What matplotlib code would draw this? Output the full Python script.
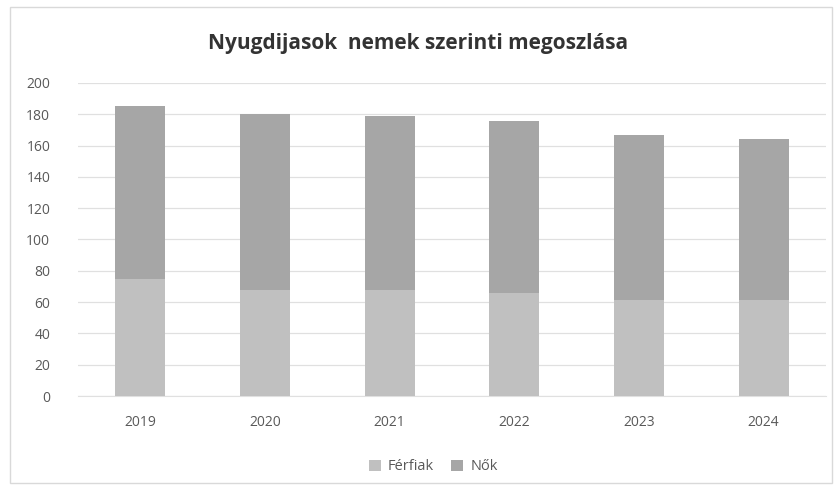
import matplotlib
matplotlib.use("Agg")
import matplotlib.pyplot as plt
from matplotlib.patches import Rectangle
import numpy as np

years = ["2019", "2020", "2021", "2022", "2023", "2024"]
ferfiak = [74.5, 67.5, 67.5, 66, 61.5, 61.5]
nok = [110.5, 112.5, 111.5, 110, 105.5, 102.5]
series_names = ["Férfiak", "Nők"]
yticks = [0, 20, 40, 60, 80, 100, 120, 140, 160, 180, 200]
title = "Nyugdijasok  nemek szerinti megoszlása"

plt.rcParams['font.family'] = ['Open Sans', 'DejaVu Sans']

fig = plt.figure(figsize=(8.36, 4.9), dpi=100)
fig.patch.set_facecolor("white")
fig.patches.append(Rectangle((10/836, 7/490), 822/836, 476/490, transform=fig.transFigure,
                             fill=False, edgecolor="#d9d9d9", linewidth=1.0))

ax = fig.add_axes([78/836, 1-396/490, 748/836, 313/490])
x = np.arange(len(years))
w = 0.4
ax.bar(x, ferfiak, w, color="#c0c0c0", label=series_names[0], zorder=3)
ax.bar(x, nok, w, bottom=ferfiak, color="#a6a6a6", label=series_names[1], zorder=3)

ax.set_xlim(-0.5, len(years) - 0.5)
ax.set_ylim(0, 200)
ax.set_yticks(yticks)
ax.set_yticklabels([str(t) for t in yticks])
ax.set_xticks(x)
ax.set_xticklabels(years)
ax.grid(axis="y", color="#e0e0e0", linewidth=0.9, zorder=0)
for s in ["top", "right", "left"]:
    ax.spines[s].set_visible(False)
ax.spines["bottom"].set_color("#e0e0e0")
ax.tick_params(axis="both", length=0, colors="#595959", labelsize=10)
ax.tick_params(axis="y", pad=20)
ax.tick_params(axis="x", pad=14)

fig.text(0.5, 1-43/490, title, ha="center", va="center", fontsize=15,
         fontweight="bold", color="#333333")

ax.legend(loc="upper center", bbox_to_anchor=(0.475, -0.16), ncol=2, frameon=False,
          fontsize=10.5, labelcolor="#595959", handlelength=0.8, handleheight=0.8,
          columnspacing=1.2, handletextpad=0.5)

fig.savefig("out.png", dpi=100, facecolor="white")
